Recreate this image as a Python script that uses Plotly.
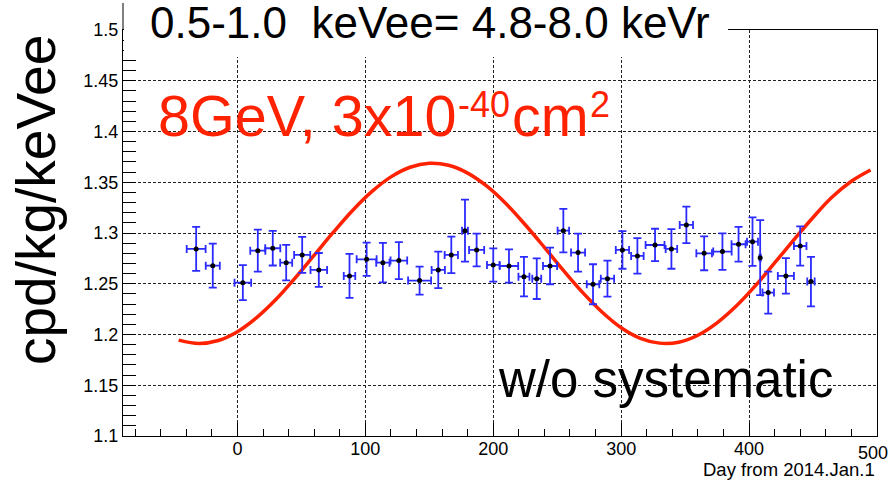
import plotly.graph_objects as go

# ---- data ----
days = [-32.3, -19.3, 4.2, 15.9, 27.6, 38.1, 50.6, 63.6, 87.6, 101.0,
        113.7, 126.2, 142.4, 157.0, 167.2, 177.9, 187.0, 200.0, 212.3, 224.0,
        234.0, 244.4, 254.8, 266.3, 278.0, 289.3, 301.0, 312.7, 326.5, 339.3,
        351.0, 364.9, 379.2, 391.8, 402.7, 408.7, 415.0, 428.8, 440.0, 448.4]
day_err = [7.4, 5.5, 6.5, 5.9, 5.9, 4.7, 6.3, 6.5, 4.5, 7.8,
           5.2, 6.5, 9.0, 5.2, 5.2, 2.3, 5.9, 4.9, 7.2, 4.3,
           3.5, 5.5, 4.5, 5.5, 4.9, 5.2, 5.2, 4.9, 7.4, 4.5,
           5.2, 6.1, 7.2, 5.5, 4.3, 0.5, 4.5, 6.3, 4.9, 2.9]
rate = [1.2843, 1.2678, 1.2511, 1.2826, 1.2850, 1.2708, 1.2784, 1.2636, 1.2577, 1.2741,
        1.2708, 1.2728, 1.2531, 1.2636, 1.2784, 1.3023, 1.2833, 1.2685, 1.2675, 1.2570,
        1.2550, 1.2675, 1.3023, 1.2807, 1.2495, 1.2550, 1.2833, 1.2774, 1.2882, 1.2843,
        1.3080, 1.2800, 1.2817, 1.2889, 1.2915, 1.2757, 1.2413, 1.2577, 1.2872, 1.2521]
rate_err = [0.0217, 0.0217, 0.0172, 0.0207, 0.0170, 0.0175, 0.0177, 0.0167, 0.0217, 0.0164,
            0.0194, 0.0182, 0.0138, 0.0180, 0.0180, 0.0305, 0.0161, 0.0164, 0.0164, 0.0194,
            0.0200, 0.0180, 0.0214, 0.0187, 0.0197, 0.0177, 0.0185, 0.0175, 0.0160, 0.0195,
            0.0180, 0.0167, 0.0180, 0.0172, 0.0239, 0.0369, 0.0207, 0.0175, 0.0194, 0.0243]

model_day = [-46, -30, -15, 0, 15, 30, 45, 60, 75, 90, 105, 120, 135, 150, 165, 180,
             195, 210, 225, 240, 255, 270, 285, 300, 315, 330, 345, 360, 375, 390,
             405, 420, 435, 450, 465, 480, 495]
model_rate = [1.1945, 1.1912, 1.1941, 1.2028, 1.2166, 1.2344, 1.2555, 1.2781, 1.3008, 1.3222,
              1.3407, 1.3553, 1.3648, 1.3687, 1.3667, 1.3590, 1.3461, 1.3288, 1.3081, 1.2858,
              1.2629, 1.2412, 1.2222, 1.2067, 1.1963, 1.1915, 1.1924, 1.1993, 1.2115, 1.2280,
              1.2481, 1.2705, 1.2933, 1.3153, 1.3354, 1.3510, 1.3621]

x_tickvals = [0, 100, 200, 300, 400, 500]
x_ticktext = ["0", "100", "200", "300", "400", "500"]
y_tickvals = [1.1, 1.15, 1.2, 1.25, 1.3, 1.35, 1.4, 1.45, 1.5]
y_ticktext = ["1.1", "1.15", "1.2", "1.25", "1.3", "1.35", "1.4", "1.45", "1.5"]

title_text = "0.5-1.0\u00a0\u00a0keVee= 4.8-8.0 keVr"
red_main = "8GeV, 3x10"
red_sup1 = "-40"
red_mid = "cm"
red_sup2 = "2"
note_text = "w/o systematic"
y_title = "cpd/kg/keVee"
x_title = "Day from 2014.Jan.1"

# ---- layout geometry ----
W, H = 890, 483
L, R, T, B = 123, 13, 30, 47
PW, PH = W - L - R, H - T - B


def px(x):
    return (x - L) / PW


def py(y):
    return (H - B - y) / PH


FONT = "Liberation Sans, Arial, Helvetica, sans-serif"
RED = "#ff2200"

fig = go.Figure()

fig.add_trace(go.Scatter(
    x=model_day, y=model_rate, mode="lines",
    line=dict(color=RED, width=3.5, shape="spline"),
    hoverinfo="skip", showlegend=False))

fig.add_trace(go.Scatter(
    x=days, y=rate, mode="markers",
    marker=dict(color="black", size=5, symbol="circle"),
    error_x=dict(type="data", array=day_err, color="#2b2bff", thickness=1.8, width=4),
    error_y=dict(type="data", array=rate_err, color="#2b2bff", thickness=1.8, width=4),
    showlegend=False))

grid = dict(showgrid=True, gridcolor="#222222", gridwidth=1, griddash="3px,2px")

# last x tick label sits on the right edge; the axis itself would hide it, so it is drawn as an annotation
axis_ticktext = x_ticktext[:-1] + [""]

fig.update_xaxes(
    range=[-89.5, 500.05], tickvals=x_tickvals, ticktext=axis_ticktext,
    ticks="inside", ticklen=13, tickcolor="black", tickwidth=1,
    ticklabelstandoff=-4,
    minor=dict(dtick=20, tick0=0, ticks="inside", ticklen=7, tickcolor="black", showgrid=False),
    showline=True, linecolor="black", linewidth=1, mirror=True, zeroline=False,
    tickfont=dict(family=FONT, size=18, color="black"), **grid)

fig.update_yaxes(
    range=[1.1, 1.5], tickvals=y_tickvals, ticktext=y_ticktext,
    ticks="inside", ticklen=13, tickcolor="black", tickwidth=1,
    minor=dict(dtick=0.01, tick0=1.1, ticks="inside", ticklen=13, tickcolor="black", showgrid=False),
    showline=True, linecolor="black", linewidth=1, mirror=True, zeroline=False,
    tickfont=dict(family=FONT, size=18, color="black"), **grid)

shapes = [
    dict(type="rect", xref="paper", yref="paper", x0=px(124), x1=px(728), y0=py(57), y1=py(-2),
         fillcolor="white", line=dict(width=0), layer="above"),
    dict(type="line", xref="paper", yref="paper", x0=0, x1=0, y0=1, y1=py(3),
         line=dict(color="black", width=1), layer="above"),
]

annotations = [
    dict(text=x_ticktext[-1], x=x_tickvals[-1], xref="x", y=py(453), yref="paper",
         xanchor="center", yanchor="middle", xshift=-4, showarrow=False,
         font=dict(family=FONT, size=18, color="black")),
    dict(text=title_text, x=px(148), y=py(22), xref="paper", yref="paper",
         xanchor="left", yanchor="middle", showarrow=False,
         font=dict(family=FONT, size=44, color="black")),
    dict(text=red_main, x=px(156), y=py(116), xref="paper", yref="paper",
         xanchor="left", yanchor="middle", showarrow=False,
         font=dict(family=FONT, size=57.5, color=RED)),
    dict(text=red_sup1, x=px(456), y=py(104), xref="paper", yref="paper",
         xanchor="left", yanchor="middle", showarrow=False,
         font=dict(family=FONT, size=36, color=RED)),
    dict(text=red_mid, x=px(510), y=py(116), xref="paper", yref="paper",
         xanchor="left", yanchor="middle", showarrow=False,
         font=dict(family=FONT, size=57.5, color=RED)),
    dict(text=red_sup2, x=px(588), y=py(104), xref="paper", yref="paper",
         xanchor="left", yanchor="middle", showarrow=False,
         font=dict(family=FONT, size=36, color=RED)),
    dict(text=note_text, x=px(496), y=py(379), xref="paper", yref="paper",
         xanchor="left", yanchor="middle", showarrow=False,
         font=dict(family=FONT, size=51, color="black")),
    dict(text=y_title, x=px(36), y=py(200), xref="paper", yref="paper",
         xanchor="center", yanchor="middle", textangle=-90, showarrow=False,
         font=dict(family=FONT, size=55, color="black")),
    dict(text=x_title, x=1.0, y=py(469), xref="paper", yref="paper",
         xanchor="right", yanchor="middle", showarrow=False,
         font=dict(family=FONT, size=18.5, color="black")),
]

fig.update_layout(
    width=W, height=H,
    margin=dict(l=L, r=R, t=T, b=B, pad=0),
    paper_bgcolor="white", plot_bgcolor="white",
    shapes=shapes, annotations=annotations,
    showlegend=False,
)

fig.write_html("out.html")
